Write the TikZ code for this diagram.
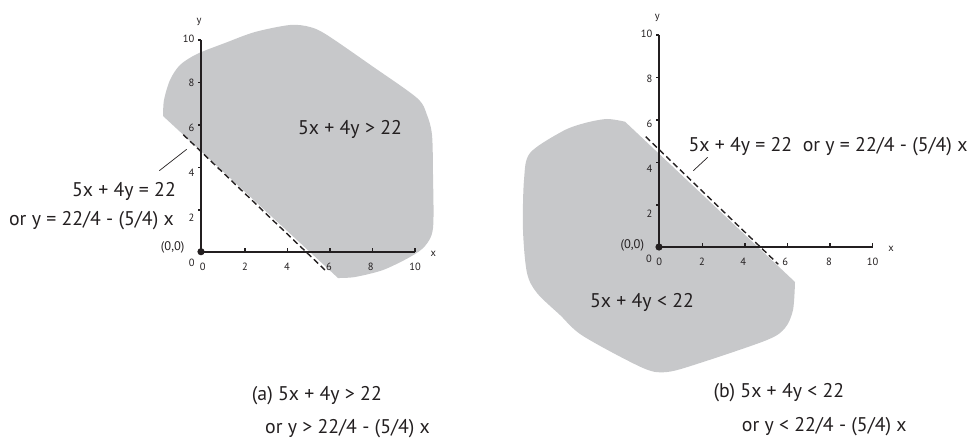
\documentclass[tikz,border=0pt]{standalone}
\usepackage{fontspec}
\setmainfont{PT Sans}
\definecolor{blobgray}{RGB}{199,200,202}
\definecolor{ink}{RGB}{35,31,32}
\begin{document}
\begin{tikzpicture}[x=1pt,y=-1pt,
  tl/.style={font=\fontsize{10.5}{11}\selectfont, inner sep=0pt, text=ink},
  orig/.style={font=\fontsize{12.5}{13}\selectfont, inner sep=0pt, text=ink},
  big/.style={font=\fontsize{19.8}{22}\selectfont, inner sep=0pt, text=ink},
  axis/.style={draw=ink, line width=1.8pt},
  tick/.style={draw=ink, line width=1.3pt},
  dashline/.style={draw=ink, line width=1.4pt, dash pattern=on 6pt off 3.5pt},
  leader/.style={draw=ink, line width=0.7pt},
  blob/.style={fill=blobgray}]
\useasboundingbox (0,0) rectangle (971,438);

% ---------------- left panel ----------------
\fill[blob] plot[smooth, tension=0.5] coordinates {(163,116) (164,100) (170,80) (180,65) (197,54) (225,43) (255,32) (290,25) (310,27) (327,35) (372,66) (417,98) (427,115) (432,135) (433,175) (433,228) (425,246) (410,257) (383,270) (355,277) (338,278)} -- cycle;
\coordinate (la) at (183.3,134.7);
\coordinate (lb) at (325,270);
\draw[dashline] (la) -- (lb);

\coordinate (o1) at (201,251.7);
\coordinate (y1) at (201,40);
\coordinate (x1) at (415,251.7);
\draw[axis] (y1) -- (o1) -- (x1);
\foreach \yy in {40,82.7,125,167.3,210}{\draw[tick] (201,\yy) -- (197.5,\yy);}
\foreach \xx in {245,287.3,330,372.3,415}{\draw[tick] (\xx,251.7) -- (\xx,248);}
\fill[ink] (o1) circle[radius=3.6pt];

\node[tl, anchor=base] (ly) at (199,23.3) {y};
\node[tl, anchor=base east] (ly10) at (194.5,42.7) {10};
\node[tl, anchor=base east] (ly8) at (194.5,86.7) {8};
\node[tl, anchor=base east] (ly6) at (194.5,131.7) {6};
\node[tl, anchor=base east] (ly4) at (194.5,176.7) {4};
\node[tl, anchor=base east] (ly2) at (194.5,221.7) {2};
\node[tl, anchor=base] (ly0) at (191.7,266.7) {0};
\node[tl, anchor=base] (lx0) at (202.7,270.7) {0};
\node[tl, anchor=base] (lx2) at (245,270.7) {2};
\node[tl, anchor=base] (lx4) at (287,270.7) {4};
\node[tl, anchor=base] (lx6) at (329,270.7) {6};
\node[tl, anchor=base] (lx8) at (370.7,270.7) {8};
\node[tl, anchor=base] (lx10) at (415,270.7) {10};
\node[tl, anchor=base] (lx) at (433.3,256) {x};
\node[orig, anchor=base] (lorig) at (172.7,250.7) {(0,0)};

\node[big, anchor=base] (lgt) at (350,134.3) {5x + 4y > 22};
\node[big, anchor=base east] (leq1) at (176,196.7) {5x + 4y = 22};
\node[big, anchor=base east] (leq2) at (174,225.5) {or y = 22/4 - (5/4) x};
\coordinate (lp1) at (159.3,170.7);
\coordinate (lp2) at (186.7,149.3);
\draw[leader] (lp1) -- (lp2);

\node[big, anchor=base west] (capa1) at (251.7,400) {(a) 5x + 4y > 22};
\node[big, anchor=base west] (capa2) at (265,433.5) {or y > 22/4 - (5/4) x};

% ---------------- right panel ----------------
\fill[blob] plot[smooth, tension=0.5] coordinates {(625,121.7) (607,119) (585,123) (563,131) (530,153) (524,180) (523,230) (527,273) (537,293) (560,315) (583,336) (643,368) (667,372) (700,363) (767,340) (785,328) (793,310) (795,282)} -- cycle;
\coordinate (ra) at (645.7,136.7);
\coordinate (rb) at (778.3,264.3);
\draw[dashline] (ra) -- (rb);

\coordinate (o2) at (659,247);
\coordinate (y2) at (659,35);
\coordinate (x2) at (872.7,247);
\draw[axis] (y2) -- (o2) -- (x2);
\foreach \yy in {35,77.7,120,162.7,205}{\draw[tick] (659,\yy) -- (655.5,\yy);}
\foreach \xx in {702.3,745,787.3,830,872.7}{\draw[tick] (\xx,247) -- (\xx,243.3);}
\fill[ink] (o2) circle[radius=3.6pt];

\node[tl, anchor=base] (ry) at (657.3,20) {y};
\node[tl, anchor=base east] (ry10) at (652.5,37.3) {10};
\node[tl, anchor=base east] (ry8) at (652.5,82.3) {8};
\node[tl, anchor=base east] (ry6) at (652.5,127.7) {6};
\node[tl, anchor=base east] (ry4) at (652.5,172.7) {4};
\node[tl, anchor=base east] (ry2) at (652.5,217.3) {2};
\node[tl, anchor=base] (ry0) at (649,262.3) {0};
\node[tl, anchor=base] (rx0) at (659.3,265.7) {0};
\node[tl, anchor=base] (rx2) at (702,265.7) {2};
\node[tl, anchor=base] (rx4) at (743.3,265.7) {4};
\node[tl, anchor=base] (rx6) at (785.3,265.7) {6};
\node[tl, anchor=base] (rx8) at (829,265.7) {8};
\node[tl, anchor=base] (rx10) at (872.7,265.7) {10};
\node[tl, anchor=base] (rx) at (891,251.7) {x};
\node[orig, anchor=base] (rorig) at (632.3,248.3) {(0,0)};

\node[big, anchor=base west] (req) at (688.3,151.7) {5x + 4y = 22\ \ or y = 22/4 - (5/4) x};
\coordinate (rp1) at (693.3,170.7);
\coordinate (rp2) at (707.7,157.3);
\draw[leader] (rp1) -- (rp2);
\node[big, anchor=base] (rlt) at (642,307.3) {5x + 4y < 22};

\node[big, anchor=base west] (capb1) at (713.3,397.3) {(b) 5x + 4y < 22};
\node[big, anchor=base west] (capb2) at (741.7,431) {or y < 22/4 - (5/4) x};
\end{tikzpicture}
\end{document}
